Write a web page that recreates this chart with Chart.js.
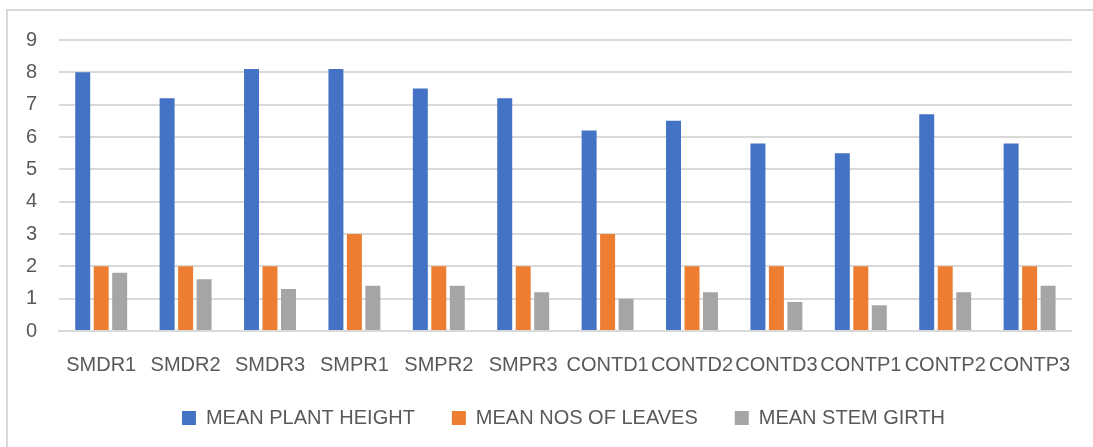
<!DOCTYPE html>
<html>
<head>
<meta charset="utf-8">
<script src="https://cdn.jsdelivr.net/npm/chart.js@4/dist/chart.umd.min.js"></script>
<style>
  html, body { margin: 0; padding: 0; background: #ffffff; overflow: hidden; }
  #wrap { position: relative; width: 1093px; height: 447px; }
  #frame { position: absolute; left: 6px; top: 9px; width: 1200px; height: 600px;
           border: 2px solid #d9d9d9; box-sizing: border-box; pointer-events: none; }
  canvas { position: absolute; left: 0; top: 0; }
</style>
</head>
<body>
<div id="wrap">
  <div id="frame"></div>
  <canvas id="chart" width="1093" height="447"></canvas>
</div>
<script>
// Treatment groups along the x axis
const categories = ['SMDR1', 'SMDR2', 'SMDR3', 'SMPR1', 'SMPR2', 'SMPR3',
                    'CONTD1', 'CONTD2', 'CONTD3', 'CONTP1', 'CONTP2', 'CONTP3'];

// Series values per treatment
const plantHeight = [8.0, 7.2, 8.1, 8.1, 7.5, 7.2, 6.2, 6.5, 5.8, 5.5, 6.7, 5.8];
const leafCount   = [2, 2, 2, 3, 2, 2, 3, 2, 2, 2, 2, 2];
const stemGirth   = [1.8, 1.6, 1.3, 1.4, 1.4, 1.2, 1.0, 1.2, 0.9, 0.8, 1.2, 1.4];

const seriesNames = ['MEAN PLANT HEIGHT', 'MEAN NOS OF LEAVES', 'MEAN STEM GIRTH'];
const yTicks = [0, 1, 2, 3, 4, 5, 6, 7, 8, 9];

const textColor = '#595959';
const fontFamily = '"Liberation Sans", Arial, sans-serif';

const series = [plantHeight, leafCount, stemGirth];
const colors = ['#4472C4', '#ED7D31', '#A5A5A5'];

// The legend's wide item spacing also pads it vertically and off-centres the row;
// nudge the legend box so its row sits centred just under the axis labels.
const legendNudge = {
  id: 'legendNudge',
  afterLayout(chart) {
    const lg = chart.legend;
    lg.top -= 8;
    lg.bottom -= 8;
    lg.left += 27;
    lg.right += 27;
  }
};

new Chart(document.getElementById('chart'), {
  type: 'bar',
  data: {
    labels: categories,
    datasets: series.map((values, i) => ({
      label: seriesNames[i],
      data: values,
      backgroundColor: colors[i],
      borderWidth: 0,
      categoryPercentage: 0.657,
      barPercentage: 0.81
    }))
  },
  plugins: [legendNudge],
  options: {
    responsive: false,
    animation: false,
    devicePixelRatio: 1,
    layout: { padding: { top: 40, right: 20, left: 0, bottom: 1 } },
    plugins: {
      tooltip: { enabled: false },
      legend: {
        position: 'bottom',
        labels: {
          color: textColor,
          font: { family: fontFamily, size: 20 },
          boxWidth: 14,
          boxHeight: 14,
          padding: 37
        }
      }
    },
    scales: {
      x: {
        grid: { display: false, drawTicks: false },
        border: { display: true, color: '#d9d9d9', width: 2 },
        ticks: {
          color: textColor,
          font: { family: fontFamily, size: 20 },
          padding: 22,
          maxRotation: 0,
          autoSkip: false
        },
        afterFit: (scale) => { scale.height = 48; }
      },
      y: {
        min: 0,
        max: 9,
        afterBuildTicks: (scale) => { scale.ticks = yTicks.map(v => ({ value: v })); },
        grid: { color: '#d9d9d9', lineWidth: 2, drawTicks: false },
        border: { display: false },
        ticks: {
          color: textColor,
          font: { family: fontFamily, size: 20 },
          padding: 22
        },
        afterFit: (scale) => { scale.width = 59; }
      }
    }
  }
});
</script>
</body>
</html>
